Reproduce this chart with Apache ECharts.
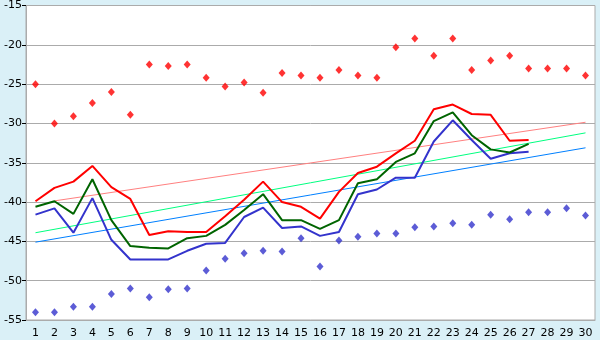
<!DOCTYPE html>
<html><head><meta charset="utf-8">
<script src="https://cdn.jsdelivr.net/npm/echarts@6/dist/echarts.min.js"></script>
<style>html,body{margin:0;padding:0;background:#DAF0F7;}#c{width:600px;height:340px;}</style>
</head><body><div id="c"></div>
<script>
const days = ['1','2','3','4','5','6','7','8','9','10','11','12','13','14','15','16','17','18','19','20','21','22','23','24','25','26','27','28','29','30'];
const maxPoints = [-25.0,-30.0,-29.1,-27.4,-26.0,-28.9,-22.5,-22.7,-22.5,-24.2,-25.3,-24.8,-26.1,-23.6,-23.9,-24.2,-23.2,-23.9,-24.2,-20.3,-19.2,-21.4,-19.2,-23.2,-22.0,-21.4,-23.0,-23.0,-23.0,-23.9];
const minPoints = [-54.0,-54.0,-53.3,-53.3,-51.7,-51.0,-52.1,-51.1,-51.0,-48.7,-47.2,-46.5,-46.2,-46.3,-44.6,-48.2,-44.9,-44.4,-44.0,-44.0,-43.2,-43.1,-42.7,-42.9,-41.6,-42.2,-41.3,-41.3,-40.8,-41.7];
const upperLine = [-39.9,-38.2,-37.4,-35.4,-38.1,-39.6,-44.2,-43.7,-43.8,-43.8,-41.8,-39.7,-37.4,-40.0,-40.6,-42.1,-38.7,-36.3,-35.5,-33.8,-32.2,-28.2,-27.6,-28.8,-28.9,-32.2,-32.1];
const meanLine = [-40.6,-39.9,-41.5,-37.1,-42.3,-45.6,-45.8,-45.9,-44.6,-44.3,-42.9,-41.0,-39.0,-42.3,-42.3,-43.4,-42.3,-37.6,-37.1,-34.9,-33.8,-29.7,-28.6,-31.5,-33.3,-33.7,-32.6];
const lowerLine = [-41.6,-40.8,-43.9,-39.5,-44.8,-47.3,-47.3,-47.3,-46.2,-45.3,-45.2,-41.9,-40.7,-43.3,-43.1,-44.3,-43.8,-39.0,-38.4,-36.9,-36.9,-32.3,-29.6,-32.1,-34.5,-33.8,-33.6];
// trend lines: [start index, start value, end index, end value]
const upperTrend = [1, -39.85, 29, -29.85];
const meanTrend = [0, -43.9, 29, -31.2];
const lowerTrend = [0, -45.1, 29, -33.1];
const yTicks = {min: -55, max: -15, interval: 5};

function trendData(t) {
  const arr = days.map(() => null);
  arr[t[0]] = t[1];
  arr[t[2]] = t[3];
  return arr;
}
const chart = echarts.init(document.getElementById('c'), null, {renderer: 'canvas'});
const font = 'DejaVu Sans';
chart.setOption({
  animation: false,
  backgroundColor: '#DAF0F7',
  grid: {left: 26, right: 5, top: 5, bottom: 20, show: true, backgroundColor: '#FFFFFF', borderColor: '#ABABAB', borderWidth: 1},
  xAxis: {
    type: 'category', data: days, boundaryGap: true,
    axisLine: {lineStyle: {color: '#ABABAB'}},
    axisTick: {alignWithLabel: true, length: 5, lineStyle: {color: '#000'}},
    axisLabel: {color: '#000', fontFamily: font, fontSize: 11, margin: 8, interval: 0}
  },
  yAxis: {
    type: 'value', min: yTicks.min, max: yTicks.max, interval: yTicks.interval,
    axisLine: {show: true, lineStyle: {color: '#ABABAB'}},
    axisTick: {show: true, length: 4, lineStyle: {color: '#000'}},
    axisLabel: {color: '#000', fontFamily: font, fontSize: 11, margin: 4},
    splitLine: {lineStyle: {color: '#ABABAB', width: 1}}
  },
  series: [
    {type: 'line', data: trendData(upperTrend), connectNulls: true, showSymbol: false, lineStyle: {color: '#FF8080', width: 1}, itemStyle: {color: '#FF8080'}, z: 2},
    {type: 'line', data: trendData(meanTrend), connectNulls: true, showSymbol: false, lineStyle: {color: '#00FF80', width: 1}, itemStyle: {color: '#00FF80'}, z: 2},
    {type: 'line', data: trendData(lowerTrend), connectNulls: true, showSymbol: false, lineStyle: {color: '#0080FF', width: 1}, itemStyle: {color: '#0080FF'}, z: 2},
    {type: 'line', data: lowerLine, showSymbol: false, lineStyle: {color: '#3333CC', width: 2}, itemStyle: {color: '#3333CC'}, z: 3},
    {type: 'line', data: meanLine, showSymbol: false, lineStyle: {color: '#006400', width: 2}, itemStyle: {color: '#006400'}, z: 3},
    {type: 'line', data: upperLine, showSymbol: false, lineStyle: {color: '#FF0000', width: 2}, itemStyle: {color: '#FF0000'}, z: 3},
    {type: 'scatter', data: maxPoints, symbol: 'diamond', symbolSize: [7, 8], itemStyle: {color: '#FF0000'}, z: 4},
    {type: 'scatter', data: minPoints, symbol: 'diamond', symbolSize: [7, 8], itemStyle: {color: '#3333CC'}, z: 4}
  ]
});
</script></body></html>
